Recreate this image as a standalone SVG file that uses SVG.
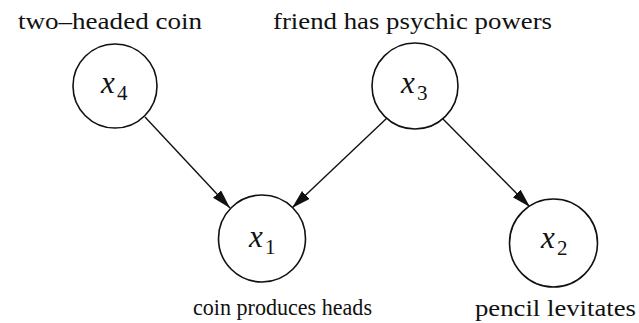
<svg xmlns="http://www.w3.org/2000/svg" width="639" height="323" viewBox="0 0 639 323">
<defs>
<style>
.node circle{fill:#fff;stroke:#111;stroke-width:1.6}
.lbl{font-size:23px;fill:#111}
.var{font-size:31px;font-style:italic;fill:#111}
.sub{font-size:21px;fill:#111}
.edge{stroke:#111;stroke-width:1.4;fill:none;marker-end:url(#arr)}
</style>
<marker id="arr" markerUnits="userSpaceOnUse" markerWidth="20" markerHeight="12" refX="19" refY="5.5" orient="auto">
<path d="M0,0 L19,5.5 L0,11 z" fill="#111"/>
</marker>
</defs>
<rect width="639" height="323" fill="#fff"/>
<g id="connectors">
<line class="edge" x1="145" y1="117" x2="230" y2="208"/>
<line class="edge" x1="387" y1="118" x2="292" y2="208"/>
<line class="edge" x1="442" y1="118" x2="530" y2="207"/>
</g>
<g font-family="Liberation Serif, Times New Roman, serif">
<g id="x4" class="node">
<circle cx="115" cy="86" r="42"/>
<text class="var" x="101" y="93">x</text><text class="sub" x="117" y="100">4</text>
<text class="lbl" x="18" y="29" textLength="184" lengthAdjust="spacingAndGlyphs">two–headed coin</text>
</g>
<g id="x3" class="node">
<circle cx="415" cy="86" r="43"/>
<text class="var" x="401" y="93">x</text><text class="sub" x="417" y="100">3</text>
<text class="lbl" x="273" y="29" textLength="279" lengthAdjust="spacingAndGlyphs">friend has psychic powers</text>
</g>
<g id="x1" class="node">
<circle cx="262" cy="238.5" r="43.5"/>
<text class="var" x="249" y="247">x</text><text class="sub" x="265" y="254">1</text>
<text class="lbl" x="193" y="315" textLength="179" lengthAdjust="spacingAndGlyphs">coin produces heads</text>
</g>
<g id="x2" class="node">
<circle cx="553.5" cy="243" r="44"/>
<text class="var" x="541" y="248">x</text><text class="sub" x="557" y="255">2</text>
<text class="lbl" x="475" y="316" textLength="161" lengthAdjust="spacingAndGlyphs">pencil levitates</text>
</g>
</g>
</svg>
